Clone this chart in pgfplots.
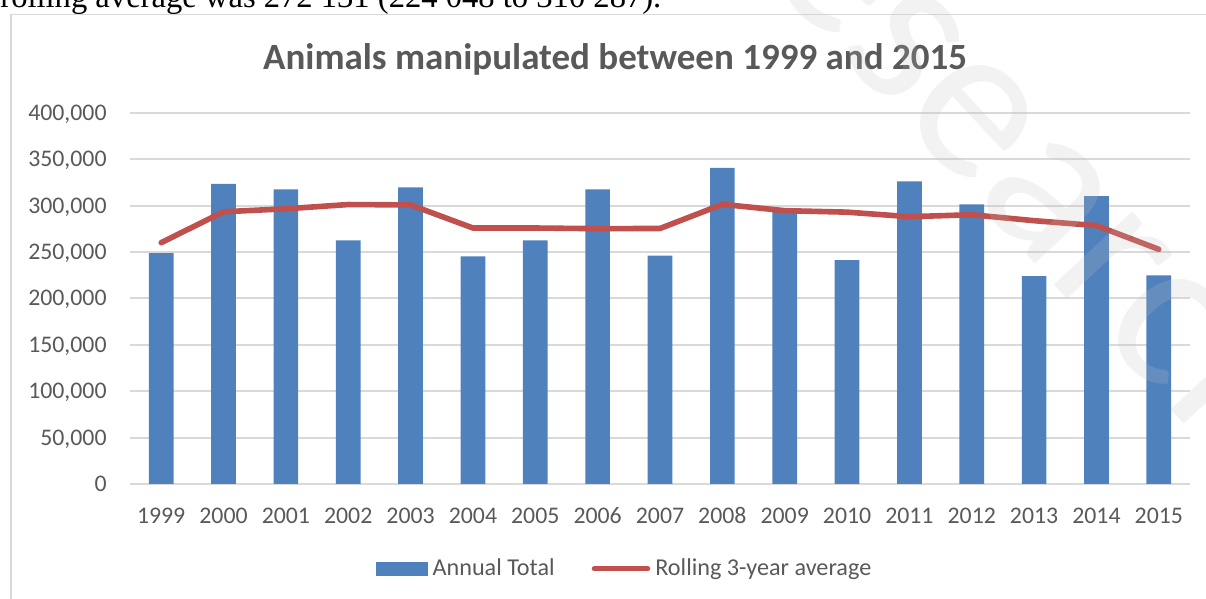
\documentclass[border=0pt]{standalone}
\usepackage{fontspec}
\setmainfont{Carlito}
\newfontfamily\bodyserif{Liberation Serif}
\usepackage{pgfplots}
\usepackage{pgfplotstable}
\pgfplotsset{compat=1.18}

\definecolor{barblue}{HTML}{4F81BD}
\definecolor{linered}{HTML}{C0504D}
\definecolor{txtgray}{HTML}{595959}
\definecolor{gridgray}{HTML}{D9D9D9}
\definecolor{wmgray}{HTML}{BEBEBE}

% annual totals and rolling 3-year average
\pgfplotstableread{
x year total  rolling
0  1999 249000 260200
1  2000 323500 293500
2  2001 317700 296700
3  2002 262700 301300
4  2003 319900 300900
5  2004 245500 276000
6  2005 262700 276000
7  2006 317700 275300
8  2007 246200 275500
9  2008 340700 301500
10 2009 297200 294700
11 2010 241300 293100
12 2011 326200 288200
13 2012 301500 290300
14 2013 224048 283900
15 2014 310287 278600
16 2015 224800 253000
}\animals

\newcommand{\lbl}{\fontsize{11.9}{14}\selectfont}
\newcommand{\leg}{\fontsize{12.1}{14}\selectfont}

\begin{document}
\begin{tikzpicture}
\useasboundingbox (0,0) rectangle (603pt,299.5pt);
\clip (0,0) rectangle (603pt,299.5pt);

% cut-off line of body text above the chart
\node[anchor=base west, inner sep=0pt, font=\bodyserif\fontsize{16.3}{19}\selectfont]
  at (0pt,295.5pt) {rolling average was 272 131 (224 048 to 310 287).};

% chart frame
\draw[gridgray, line width=0.75pt] (5.5pt,-2pt) |- (606pt,292.15pt);

\node[anchor=base, inner sep=0pt, text=txtgray, font=\bfseries\fontsize{18.5}{22}\selectfont]
  at (307.5pt,264.5pt) {Animals manipulated between 1999 and 2015};

\begin{axis}[
    at={(65pt,57.5pt)}, anchor=south west,
    scale only axis,
    width=530pt, height=185.5pt,
    xmin=-0.5, xmax=16.5,
    ymin=0, ymax=400000,
    axis line style={draw=none},
    major tick length=0pt,
    xtick=data,
    xticklabels from table={\animals}{year},
    ytick={0,50000,...,400000},
    ymajorgrids,
    grid style={gridgray, line width=1pt},
    scaled y ticks=false,
    /pgf/number format/fixed,
    /pgf/number format/1000 sep={,},
    /pgf/number format/assume math mode=true,
    tick label style={font=\lbl, text=txtgray},
    y tick label style={anchor=base east, inner sep=0pt, xshift=-11.5pt, yshift=-3.75pt},
    x tick label style={anchor=center, inner sep=0pt, yshift=-15.75pt},
    legend columns=2,
    legend cell align=left,
    legend style={at={(0.4655,-0.2283)}, anchor=center, draw=none, fill=none,
      inner sep=0pt, font=\leg, text=txtgray, nodes={inner sep=0pt},
      /tikz/every odd column/.append style={column sep=2.5pt},
      /tikz/every even column/.append style={column sep=18.5pt}},
  ]
  \addplot[ybar, bar width=12.35pt, fill=barblue, draw=none,
    legend image code/.code={\fill[barblue] (0pt,-3.5pt) rectangle (26pt,3.5pt);}]
    table[x=x, y=total] {\animals};
  \addlegendentry{Annual Total}

  \addplot[sharp plot, no marks, color=linered, line width=2.8pt,
    line cap=round, line join=round,
    legend image code/.code={\draw[linered, line width=2.8pt, line cap=round] (1.4pt,0pt) -- (24.6pt,0pt);
      \path (0pt,0pt) -- (26.5pt,0pt);}]
    table[x=x, y=rolling] {\animals};
  \addlegendentry{Rolling 3-year average}
\end{axis}

% faint diagonal watermark
\node[rotate=-47, anchor=base west, inner sep=0pt, text=wmgray, text opacity=0.2,
  font=\fontsize{112}{120}\selectfont] at (354pt,343pt) {research};
\end{tikzpicture}
\end{document}
